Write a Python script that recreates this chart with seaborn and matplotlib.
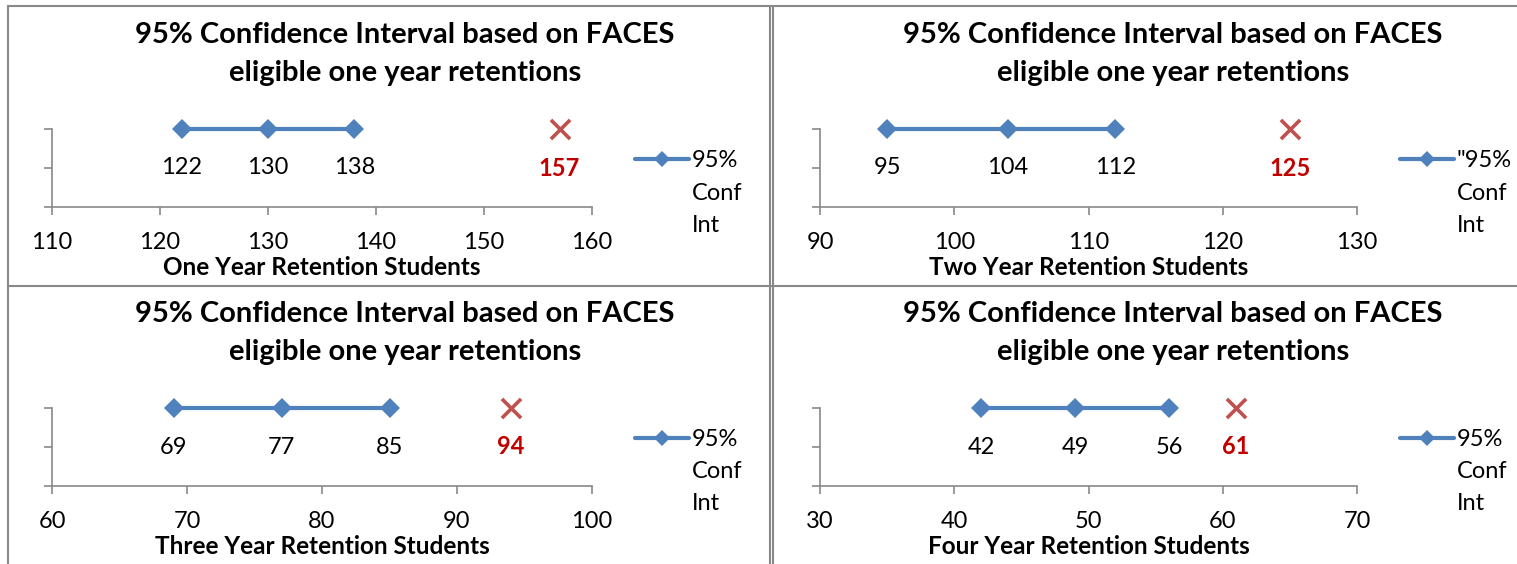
import matplotlib
matplotlib.use("Agg")
import matplotlib.pyplot as plt
from matplotlib.lines import Line2D
import seaborn as sns
import pandas as pd

# values
x_labels = ["One Year Retention Students", "Two Year Retention Students",
            "Three Year Retention Students", "Four Year Retention Students"]
legend_labels = ["95%", "\"95%", "95%", "95%"]
ci_low = [122, 95, 69, 42]
ci_mid = [130, 104, 77, 49]
ci_high = [138, 112, 85, 56]
actual = [157, 125, 94, 61]
x_min = [110, 90, 60, 30]
x_max = [160, 130, 100, 70]
title = "95% Confidence Interval based on FACES\neligible one year retentions"

W, H = 1517, 564
BLUE = "#4F81BD"
RED_X = "#C0504D"
RED_TXT = "#C00000"
GRAY = "#898989"
FS = 17

sns.set_theme(style="white")
plt.rcParams["font.family"] = ["Lato", "DejaVu Sans"]
plt.rcParams["text.color"] = "black"
plt.rcParams["axes.labelcolor"] = "black"
plt.rcParams["xtick.color"] = "black"
plt.rcParams["ytick.color"] = "black"

fig = plt.figure(figsize=(W / 100, H / 100), dpi=100)


def fx(px):
    return px / W


def fy(py):
    return 1 - py / H


# panel frames
for y in [6, 286]:
    fig.add_artist(Line2D([fx(8), 1], [fy(y), fy(y)], color=GRAY, lw=1.5))
for x in [8, 770, 773]:
    fig.add_artist(Line2D([fx(x), fx(x)], [fy(6), 0], color=GRAY, lw=1.5))

lefts = [52, 820, 52, 820]
rights = [592, 1357, 592, 1357]
tops = [129, 129, 408, 408]
height = 78

legends = []
for i in range(4):
    l, r, t = lefts[i], rights[i], tops[i]
    ax = fig.add_axes([fx(l), fy(t + height), (r - l) / W, height / H])
    df = pd.DataFrame({"value": [ci_low[i], ci_mid[i], ci_high[i]], "y": [1, 1, 1]})
    sns.lineplot(data=df, x="value", y="y", ax=ax, color=BLUE, marker="D",
                 markersize=10, markeredgewidth=0, linewidth=3, clip_on=False,
                 legend=False)
    sns.scatterplot(x=[actual[i]], y=[1], ax=ax, marker="x", s=190,
                    color=RED_X, linewidth=2.6, clip_on=False, zorder=5)
    for v in df["value"]:
        ax.annotate(str(v), (v, 1), xytext=(0, -39), textcoords="offset pixels",
                    ha="center", va="center", fontsize=FS, color="black")
    ax.annotate(str(actual[i]), (actual[i], 1), xytext=(0, -39),
                textcoords="offset pixels", ha="center", va="center",
                fontsize=FS, color=RED_TXT, fontweight="bold")

    ax.set_xlim(x_min[i], x_max[i])
    ax.set_ylim(0, 1)
    ax.set_xticks(range(x_min[i], x_max[i] + 1, 10))
    ax.set_yticks([0, 0.5, 1])
    ax.set_yticklabels([])
    ax.set_ylabel("")
    ax.set_xlabel(x_labels[i], fontsize=17.5, fontweight="bold", labelpad=2.5)
    ax.tick_params(axis="x", bottom=True, length=6, width=1.2, color=GRAY,
                   labelsize=FS, pad=12)
    ax.tick_params(axis="y", left=True, length=6, width=1.2, color=GRAY)
    for side in ["top", "right"]:
        ax.spines[side].set_visible(False)
    for side in ["left", "bottom"]:
        ax.spines[side].set_color(GRAY)
        ax.spines[side].set_linewidth(1.2)
    ax.patch.set_alpha(0)

    cx = l + 353
    fig.text(fx(cx), fy(t - 75), title, ha="center", va="center",
             fontsize=21, fontweight="bold", linespacing=1.55)

    handle = Line2D([], [], color=BLUE, marker="D", markersize=8,
                    markeredgewidth=0, linewidth=3)
    leg = ax.legend([handle], [legend_labels[i]], loc="center left",
                    bbox_to_anchor=(fx(r + 43), fy(t + 32)),
                    bbox_transform=fig.transFigure, frameon=False,
                    fontsize=FS, handlelength=2.3, handletextpad=0.1,
                    borderpad=0, borderaxespad=0)
    legends.append((leg, t))

fig.canvas.draw()
for leg, t in legends:
    bb = leg.get_texts()[0].get_window_extent()
    for k, word in enumerate(["Conf", "Int"]):
        fig.text(bb.x0 / W, fy(t + 64 + 32 * k), word, ha="left", va="center",
                 fontsize=FS)

fig.savefig("out.png", dpi=100)
